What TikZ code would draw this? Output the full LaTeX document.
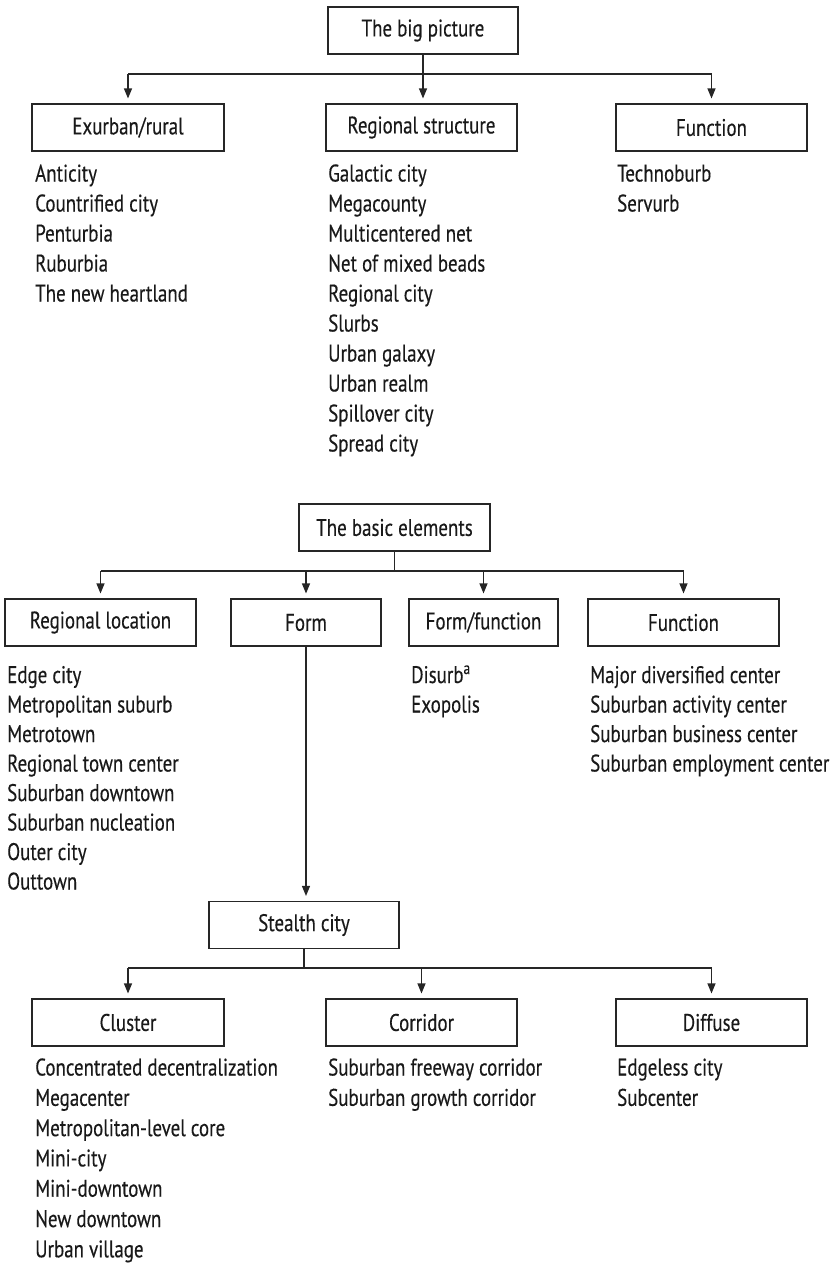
\documentclass[tikz,border=0pt]{standalone}
\usepackage{fontspec}
\setmainfont[FakeStretch=0.79,FakeBold=0.3]{PT Sans}
\usetikzlibrary{arrows.meta}
\tikzset{
  box/.style={draw=black!85, line width=1.1pt, minimum height=47pt, inner sep=0pt, font=\fontsize{24}{30}\selectfont, text=black!90},
  item/.style={inner sep=0pt, font=\fontsize{24}{30}\selectfont, text=black!90, anchor=base west},
  conn/.style={draw=black!85, line width=1.1pt},
  arr/.style={conn, -{Triangle[length=10pt,width=8pt]}, shorten >=5pt},
}
\begin{document}
\begin{tikzpicture}[x=1pt,y=-1pt]
\useasboundingbox (0,0) rectangle (834,1263);
% top part
\node[box, minimum width=190pt] (big) at (423,30.5) {The big picture};
\node[box, minimum width=192pt] (exr) at (128,127.5) {Exurban/rural};
\node[box, minimum width=191pt] (rst) at (421.5,127.5) {Regional structure};
\node[box, minimum width=191pt] (fna) at (711.5,127.5) {Function};
\coordinate (j1) at (423,74);
\draw[conn] (big.south) -- (j1);
\draw[conn] (exr.north |- j1) -- (fna.north |- j1);
\draw[arr] (exr.north |- j1) -- (exr.north);
\draw[arr] (j1) -- (j1 |- rst.north);
\draw[arr] (fna.north |- j1) -- (fna.north);
\foreach \t [count=\i] in {Anticity, Countrified city, Penturbia, Ruburbia, The new heartland}
  \node[item] (ex\i) at (35,181.5+30*\i-30) {\t};
\foreach \t [count=\i] in {Galactic city, Megacounty, Multicentered net, Net of mixed beads, Regional city, Slurbs, Urban galaxy, Urban realm, Spillover city, Spread city}
  \node[item] (rs\i) at (328,181.5+30*\i-30) {\t};
\foreach \t [count=\i] in {Technoburb, Servurb}
  \node[item] (fa\i) at (617,181.5+30*\i-30) {\t};
% basic elements
\node[box, minimum width=191pt] (bas) at (394.5,527.5) {The basic elements};
\node[box, minimum width=191pt] (rlo) at (100.5,622.5) {Regional location};
\node[box, minimum width=150pt] (frm) at (306,622.5) {Form};
\node[box, minimum width=149pt] (ffn) at (483.5,622.5) {Form/function};
\node[box, minimum width=191pt] (fnb) at (683.5,622.5) {Function};
\coordinate (j2) at (394.5,571);
\draw[conn] (bas.south) -- (j2);
\draw[conn] (rlo.north |- j2) -- (fnb.north |- j2);
\draw[arr] (rlo.north |- j2) -- (rlo.north);
\draw[arr] (frm.north |- j2) -- (frm.north);
\draw[arr] (ffn.north |- j2) -- (ffn.north);
\draw[arr] (fnb.north |- j2) -- (fnb.north);
\foreach \t [count=\i] in {Edge city, Metropolitan suburb, Metrotown, Regional town center, Suburban downtown, Suburban nucleation, Outer city, Outtown}
  \node[item] (rl\i) at (7,683+29.5*\i-29.5) {\t};
\node[item] (ff1) at (411,683) {Disurb\textsuperscript{a}};
\node[item] (ff2) at (411,712.5) {Exopolis};
\foreach \t [count=\i] in {Major diversified center, Suburban activity center, Suburban business center, Suburban employment center}
  \node[item] (fb\i) at (590,683+29.5*\i-29.5) {\t};
% stealth city
\node[box, minimum width=190pt] (stc) at (304,925) {Stealth city};
\draw[arr] (frm.south) -- (frm.south |- stc.north);
\node[box, minimum width=192pt] (clu) at (128,1022.5) {Cluster};
\node[box, minimum width=191pt] (cor) at (421.5,1022.5) {Corridor};
\node[box, minimum width=191pt] (dif) at (711.5,1022.5) {Diffuse};
\coordinate (j3) at (304,968);
\draw[conn] (stc.south) -- (j3);
\draw[conn] (clu.north |- j3) -- (dif.north |- j3);
\draw[arr] (clu.north |- j3) -- (clu.north);
\draw[arr] (cor.north |- j3) -- (cor.north);
\draw[arr] (dif.north |- j3) -- (dif.north);
\foreach \t [count=\i] in {Concentrated decentralization, Megacenter, Metropolitan-level core, Mini-city, Mini-downtown, New downtown, Urban village}
  \node[item] (cl\i) at (35,1075.5+30.3*\i-30.3) {\t};
\foreach \t [count=\i] in {Suburban freeway corridor, Suburban growth corridor}
  \node[item] (co\i) at (328,1075.5+30.3*\i-30.3) {\t};
\foreach \t [count=\i] in {Edgeless city, Subcenter}
  \node[item] (di\i) at (617,1075.5+30.3*\i-30.3) {\t};
\end{tikzpicture}
\end{document}
